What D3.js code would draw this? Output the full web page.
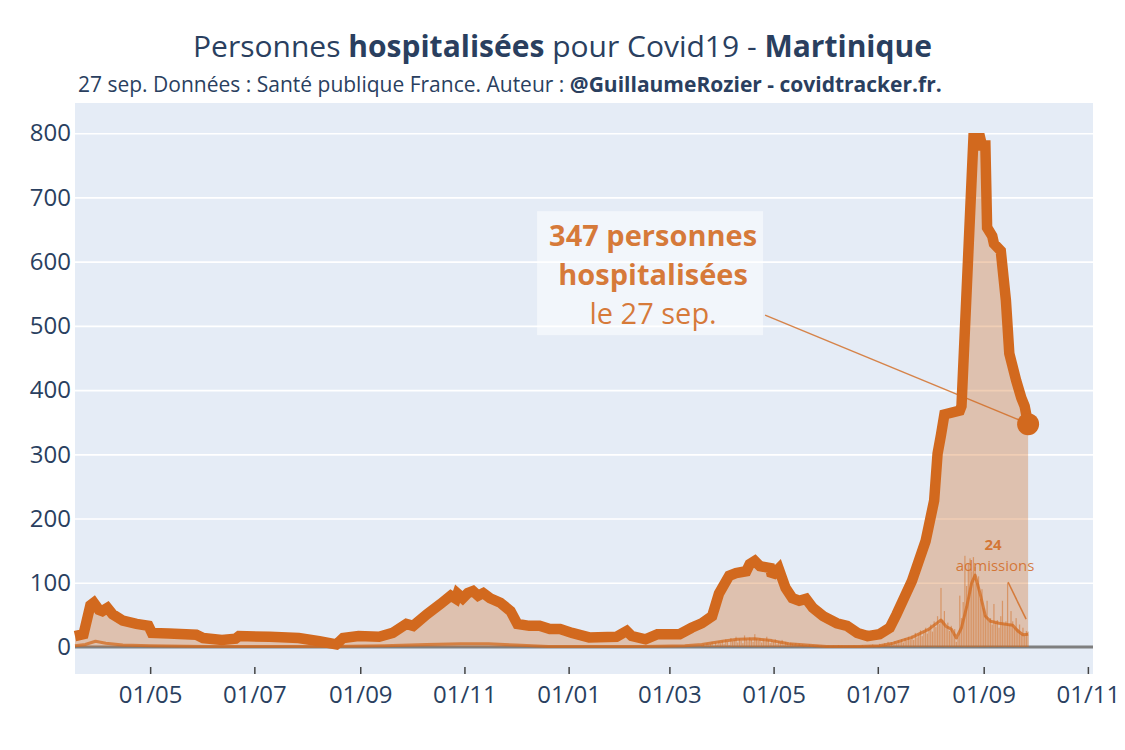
<!DOCTYPE html>
<html>
<head>
<meta charset="utf-8">
<script src="https://cdn.jsdelivr.net/npm/d3@7"></script>
<style>
body { margin: 0; background: #fff; }
svg text { font-family: "Open Sans", sans-serif; }
</style>
</head>
<body>
<svg width="1125" height="750"></svg>
<script>
// hospitalisations
const hospDates = [
  "2020-03-18","2020-03-23","2020-03-27","2020-03-29","2020-04-01","2020-04-03","2020-04-06","2020-04-09",
  "2020-04-15","2020-04-23","2020-04-30","2020-05-02","2020-05-12","2020-05-28","2020-06-01","2020-06-12",
  "2020-06-20","2020-06-22","2020-07-10","2020-07-27","2020-08-08","2020-08-18","2020-08-22","2020-08-31",
  "2020-09-12","2020-09-20","2020-09-28","2020-10-02","2020-10-10","2020-10-18","2020-10-24","2020-10-27",
  "2020-10-28","2020-10-31","2020-11-03","2020-11-06","2020-11-09","2020-11-12","2020-11-16","2020-11-22",
  "2020-11-28","2020-12-02","2020-12-09","2020-12-15","2020-12-21","2020-12-27","2021-01-03","2021-01-13",
  "2021-01-29","2021-02-04","2021-02-07","2021-02-15","2021-02-22","2021-03-07","2021-03-14","2021-03-20",
  "2021-03-26","2021-03-30","2021-04-05","2021-04-09","2021-04-15","2021-04-17","2021-04-20","2021-04-23",
  "2021-04-29","2021-04-30","2021-05-04","2021-05-08","2021-05-12","2021-05-16","2021-05-20","2021-05-24",
  "2021-05-30","2021-06-07","2021-06-13","2021-06-19","2021-06-25","2021-07-02","2021-07-08","2021-07-12",
  "2021-07-21","2021-07-29","2021-08-03","2021-08-05","2021-08-07","2021-08-09","2021-08-18","2021-08-19",
  "2021-08-26","2021-08-30","2021-08-31","2021-09-02","2021-09-03","2021-09-06","2021-09-07","2021-09-11",
  "2021-09-14","2021-09-16","2021-09-20","2021-09-23","2021-09-25","2021-09-27"
];
const hospValues = [
  17, 20, 65, 69, 58, 56, 61, 51,
  41, 36, 33, 22, 21, 19, 14, 11,
  13, 17, 16, 14, 9, 4, 14, 17,
  16, 22, 36, 33, 51, 67, 80, 75,
  83, 76, 84, 87, 80, 84, 76, 69,
  56, 36, 33, 33, 28, 28, 22, 15,
  16, 25, 17, 12, 20, 20, 30, 37,
  48, 83, 111, 115, 118, 129, 134, 126,
  123, 111, 122, 92, 76, 72, 75, 61,
  48, 37, 33, 22, 17, 20, 30, 51,
  103, 165, 228, 301, 330, 362, 368, 375,
  792, 792, 781, 781, 653, 640, 628, 617,
  540, 457, 415, 388, 375, 347
];

// nouvelles admissions, moyenne (ligne)
const admDates = [
  "2020-03-18","2020-03-24","2020-03-30","2020-04-05","2020-04-15","2020-05-01","2020-06-01","2020-07-15",
  "2020-08-15","2020-09-15","2020-10-10","2020-10-30","2020-11-15","2020-12-01","2020-12-20","2021-01-15",
  "2021-02-15","2021-03-10","2021-03-20","2021-04-01","2021-04-10","2021-04-20","2021-04-30","2021-05-10",
  "2021-05-20","2021-06-01","2021-06-20","2021-07-02","2021-07-10","2021-07-21","2021-07-31","2021-08-05",
  "2021-08-07","2021-08-10","2021-08-13","2021-08-16","2021-08-19","2021-08-22","2021-08-25","2021-08-27",
  "2021-08-30","2021-09-02","2021-09-05","2021-09-10","2021-09-15","2021-09-18","2021-09-21","2021-09-24",
  "2021-09-27"
];
const admValues = [
  2, 4, 9, 6, 3, 2, 1, 1,
  1, 2, 4, 5, 5, 3, 1, 1,
  1, 2, 4, 9, 12, 13, 10, 5,
  3, 1, 1, 2, 6, 15, 28, 38,
  42, 32, 28, 14, 30, 62, 100, 112,
  82, 48, 40, 37, 35, 34, 25, 19,
  20
];

// nouvelles admissions par jour (barres), à partir du 20 mars 2021
const barStart = "2021-03-20";
const barValues = [
  2, 4, 1, 6, 3, 5, 8, 2, 7, 4, 9, 6,
  10, 5, 12, 8, 3, 14, 9, 11, 16, 7, 13, 10, 6, 18, 12, 9, 15, 11, 8, 20, 13, 10, 14, 7, 12, 9, 16, 11, 6, 10,
  8, 12, 5, 9, 7, 11, 4, 8, 6, 3, 7, 5, 4, 6, 2, 5, 3, 4, 2, 3, 1, 4, 2, 3, 1, 2, 3, 1, 2, 0, 1,
  1, 2, 0, 1, 2, 1, 0, 3, 1, 2, 0, 1, 1, 2, 0, 1, 2, 1, 0, 2, 1, 3, 1, 2, 1, 3, 2, 4, 2, 3,
  3, 5, 2, 4, 6, 3, 8, 5, 7, 4, 9, 6, 10, 8, 12, 7, 14, 10, 16, 12, 18, 11, 22, 15, 20, 26, 17, 24, 30, 21, 28,
  35, 24, 40, 31, 48, 36, 92, 42, 56, 30, 38, 25, 33, 20, 28, 8, 15, 80, 45, 70, 142, 95, 130, 138, 118, 140, 125, 100, 110, 75, 90,
  60, 50, 72, 40, 45, 35, 67, 38, 42, 30, 48, 72, 36, 40, 100, 35, 56, 40, 30, 45, 28, 35, 20, 30, 18, 25, 24
];

const yTicks = [0, 100, 200, 300, 400, 500, 600, 700, 800];
const xTicks = ["2020-05-01","2020-07-01","2020-09-01","2020-11-01","2021-01-01",
                "2021-03-01","2021-05-01","2021-07-01","2021-09-01","2021-11-01"];
const xRange = ["2020-03-18", "2021-11-04"];

const lastLabel = "le 27 sep.";
const admLabel = 24;

const parse = d3.utcParse("%Y-%m-%d");
const hosp = hospDates.map((d, i) => ({ date: parse(d), value: hospValues[i] }));
const adm = admDates.map((d, i) => ({ date: parse(d), value: admValues[i] }));
const bars = barValues.map((v, i) => ({ date: d3.utcDay.offset(parse(barStart), i), value: v }));

const ORANGE = "#d2691e";
const TXT = "#2a3f5f";
const MARGIN = { top: 103, right: 32, bottom: 76, left: 75 };
const WIDTH = 1125 - MARGIN.left - MARGIN.right;
const HEIGHT = 750 - MARGIN.top - MARGIN.bottom;

const svg = d3.select("svg");

//titles
const title = svg.append("text")
  .attr("x", 562.5).attr("y", 57)
  .attr("text-anchor", "middle")
  .attr("font-size", 30)
  .attr("fill", TXT);
title.append("tspan").text("Personnes ");
title.append("tspan").attr("font-weight", "bold").text("hospitalisées");
title.append("tspan").text(" pour Covid19 - ");
title.append("tspan").attr("font-weight", "bold").text("Martinique");

const sub = svg.append("text")
  .attr("x", 78).attr("y", 92)
  .attr("font-size", 21)
  .attr("fill", TXT);
sub.append("tspan").text("27 sep. Données : Santé publique France. Auteur : ");
sub.append("tspan").attr("font-weight", "bold").text("@GuillaumeRozier - covidtracker.fr.");

const chart = svg.append("g").attr("transform", `translate(${MARGIN.left},${MARGIN.top})`);

//scales
const xScale = d3.scaleUtc().domain(xRange.map(parse)).range([0, WIDTH]);
const yScale = d3.scaleLinear().domain([-42, 847]).range([HEIGHT, 0]);

chart.append("rect")
  .attr("width", WIDTH).attr("height", HEIGHT)
  .attr("fill", "#e5ecf6");

//grid
chart.append("g")
  .call(d3.axisLeft(yScale).tickValues(yTicks.filter(t => t !== 0)).tickSize(-WIDTH).tickFormat(""))
  .call(g => g.select(".domain").remove())
  .call(g => g.selectAll("line").attr("stroke", "#fff").attr("stroke-width", 1.6));

//zero line
chart.append("line")
  .attr("x1", 0).attr("x2", WIDTH)
  .attr("y1", yScale(0)).attr("y2", yScale(0))
  .attr("stroke", "#7f7f7f").attr("stroke-width", 3);

//fill under hospitalisations
chart.append("path")
  .datum(hosp)
  .attr("fill", ORANGE).attr("fill-opacity", 0.33)
  .attr("d", d3.area().x(d => xScale(d.date)).y0(yScale(0)).y1(d => yScale(d.value)));

//daily admissions
chart.selectAll(".bar")
  .data(bars)
  .enter()
  .append("rect")
  .classed("bar", true)
  .attr("x", d => xScale(d.date) - 0.6)
  .attr("width", 1.2)
  .attr("y", d => yScale(d.value))
  .attr("height", d => yScale(0) - yScale(d.value))
  .attr("fill", ORANGE).attr("opacity", 0.5);

//admissions line
chart.append("path")
  .datum(adm)
  .attr("fill", "none")
  .attr("stroke", ORANGE).attr("stroke-opacity", 0.75)
  .attr("stroke-width", 3)
  .attr("stroke-linejoin", "round")
  .attr("d", d3.line().x(d => xScale(d.date)).y(d => yScale(d.value)));

//hospitalisations line
chart.append("path")
  .datum(hosp)
  .attr("fill", "none")
  .attr("stroke", ORANGE)
  .attr("stroke-width", 10.5)
  .attr("stroke-linejoin", "miter")
  .attr("stroke-miterlimit", 2)
  .attr("d", d3.line().x(d => xScale(d.date)).y(d => yScale(d.value)));

const last = hosp[hosp.length - 1];
const px = xScale(last.date), py = yScale(last.value);

//annotation 347
chart.append("line")
  .attr("x1", px - 263).attr("y1", py - 109)
  .attr("x2", px - 6).attr("y2", py - 3)
  .attr("stroke", ORANGE).attr("stroke-opacity", 0.8).attr("stroke-width", 1.5);

chart.append("circle")
  .attr("cx", px).attr("cy", py).attr("r", 11)
  .attr("fill", ORANGE);

const bx = px - 378, by = py - 151;
chart.append("rect")
  .attr("x", bx - 113).attr("y", by - 62)
  .attr("width", 226).attr("height", 124)
  .attr("fill", "#fff").attr("fill-opacity", 0.5);

const ann = chart.append("text")
  .attr("text-anchor", "middle")
  .attr("font-size", 29)
  .attr("fill", ORANGE).attr("fill-opacity", 0.88);
ann.append("tspan").attr("x", bx + 3).attr("y", by - 27)
  .attr("font-weight", "bold").text(`${last.value} personnes`);
ann.append("tspan").attr("x", bx + 3).attr("y", by + 12)
  .attr("font-weight", "bold").text("hospitalisées");
ann.append("tspan").attr("x", bx + 3).attr("y", by + 51).text(lastLabel);

//annotation admissions
const lastAdm = adm[adm.length - 1];
const ax = xScale(lastAdm.date), ay = yScale(lastAdm.value);
chart.append("line")
  .attr("x1", ax - 20).attr("y1", ay - 52)
  .attr("x2", ax - 2).attr("y2", ay - 15)
  .attr("stroke", ORANGE).attr("stroke-opacity", 0.8).attr("stroke-width", 1.5);
const ann2 = chart.append("text")
  .attr("text-anchor", "middle")
  .attr("font-size", 15)
  .attr("fill", ORANGE).attr("fill-opacity", 0.85);
ann2.append("tspan").attr("x", ax - 35).attr("y", ay - 84)
  .attr("font-weight", "bold").text(admLabel);
ann2.append("tspan").attr("x", ax - 33).attr("y", ay - 63).text("admissions");

//axes
chart.append("g")
  .call(d3.axisLeft(yScale).tickValues(yTicks).tickSize(0).tickPadding(4))
  .call(g => g.select(".domain").remove())
  .call(g => g.selectAll("text").attr("font-size", 24).attr("fill", TXT)
    .attr("font-family", "'Open Sans', sans-serif"));

chart.append("g")
  .attr("transform", `translate(0,${HEIGHT})`)
  .call(d3.axisBottom(xScale).tickValues(xTicks.map(parse))
    .tickFormat(d3.utcFormat("%d/%m")).tickSizeInner(-7).tickSizeOuter(0).tickPadding(12))
  .call(g => g.select(".domain").remove())
  .call(g => g.selectAll("line").attr("stroke", "#444").attr("stroke-width", 1.5))
  .call(g => g.selectAll("text").attr("font-size", 24).attr("fill", TXT)
    .attr("font-family", "'Open Sans', sans-serif"));
</script>
</body>
</html>
